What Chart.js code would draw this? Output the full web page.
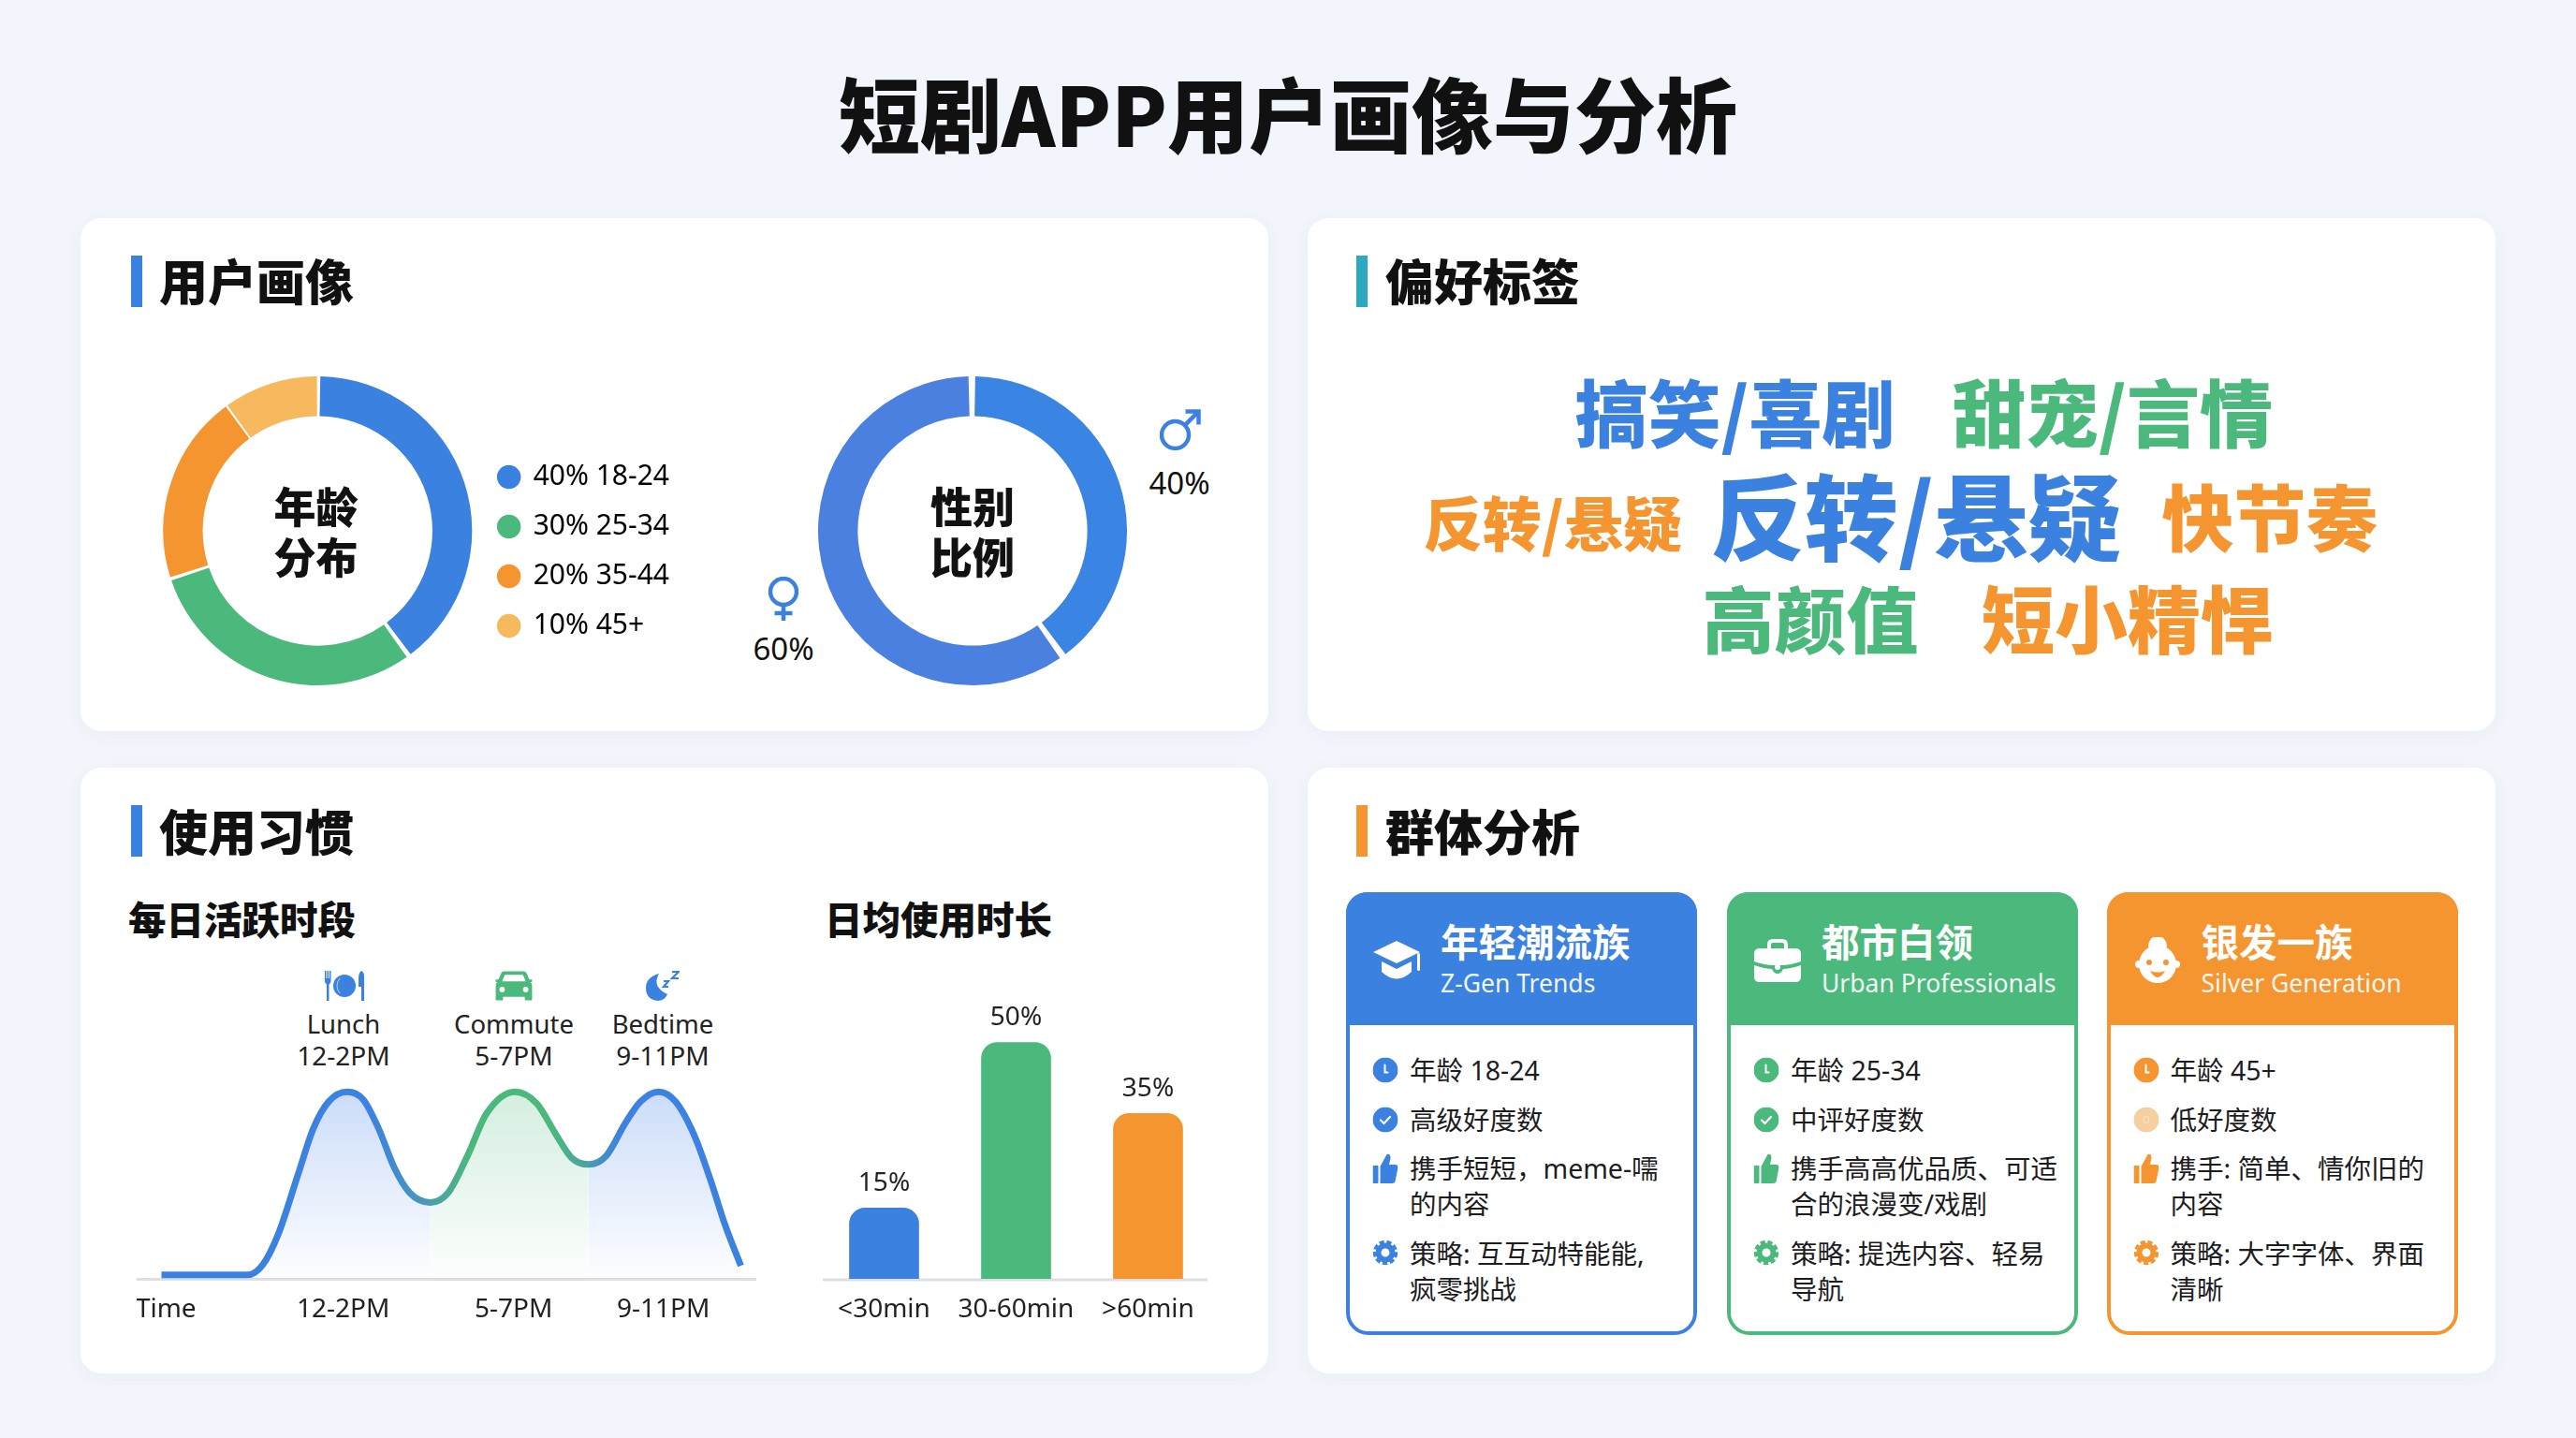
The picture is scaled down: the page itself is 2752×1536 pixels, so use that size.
<!DOCTYPE html>
<html lang="zh-CN">
<head>
<meta charset="utf-8">
<title>短剧APP用户画像与分析</title>
<script src="https://cdn.jsdelivr.net/npm/chart.js@4"></script>
<style>
html,body{margin:0;padding:0;width:2752px;height:1536px;overflow:hidden;background:#f2f5fb;color:#111;font-family:"Noto Sans","Noto Sans CJK SC",sans-serif}
#page{position:relative;width:2752px;height:1536px}
.card{position:absolute;background:#fff;border-radius:22px;box-shadow:0 4px 18px rgba(70,100,160,.05)}
.t{position:absolute;white-space:nowrap;line-height:1;transform:translateY(-50%)}
.c{transform:translate(-50%,-50%);text-align:center}
.b{font-family:"Noto Sans CJK SC",sans-serif;font-weight:900}
.m{font-family:"Noto Sans CJK SC",sans-serif;font-weight:700}
.bar{position:absolute;width:12px;height:55px}
canvas{position:absolute;display:block}
svg.i{position:absolute;transform:translate(-50%,-50%);overflow:visible}
.group{position:absolute;box-sizing:border-box;width:375px;height:473px;top:953px;background:#fff;border:4px solid;border-radius:24px}
.ghead{position:absolute;left:-4px;top:-4px;width:375px;height:142px;border-radius:22px 22px 0 0}
</style>
</head>
<body>
<svg width="0" height="0" style="position:absolute">
<defs>
<symbol id="cap" viewBox="0 0 52 44"><path fill="currentColor" d="M26 1 L51 13 L26 25 L1 13 Z M10 23 L26 31 L42 23 V34 Q26 49 10 34 Z"/><rect fill="currentColor" x="48" y="14" width="3" height="19" rx="1.5"/></symbol>
<symbol id="case" viewBox="0 0 50 48"><path fill="none" stroke="currentColor" stroke-width="4" d="M16 12 V7 Q16 3 20 3 H30 Q34 3 34 7 V12"/><path fill="currentColor" d="M6 11 H44 Q50 11 50 17 V25 Q38 29 30 29 H20 Q12 29 0 25 V17 Q0 11 6 11 Z M0 29 Q12 33 19 33 Q21 38 25 38 Q29 38 31 33 Q38 33 50 29 V41 Q50 47 44 47 H6 Q0 47 0 41 Z"/><circle fill="currentColor" cx="25" cy="31" r="3"/></symbol>
<symbol id="face" viewBox="0 0 48 50"><circle fill="currentColor" cx="24" cy="9" r="10"/><circle fill="currentColor" cx="24" cy="29" r="20"/><circle fill="currentColor" cx="4" cy="29" r="4"/><circle fill="currentColor" cx="44" cy="29" r="4"/><circle fill="#F59530" cx="15" cy="27" r="3"/><circle fill="#F59530" cx="33" cy="27" r="3"/><path fill="#F59530" d="M16 36 Q24 39 32 36 Q28 43 24 43 Q20 43 16 36 Z"/></symbol>
<symbol id="plate" viewBox="0 0 42 32"><path fill="currentColor" d="M0 0 h1.5 v8 h1 V0 h1.5 v8 h1 V0 H6.500 V11 Q6.500 14 4.500 14.500 V32 H2 V14.500 Q0 14 0 11 Z"/><circle fill="currentColor" cx="21" cy="16" r="12"/><path fill="none" stroke="#cfe0fb" stroke-width=".8" d="M16 8 Q10 16 16 24"/><path fill="currentColor" d="M39 0 Q42 1 42 6 V32 H39 V17 H36 V8 Q36 2 39 0 Z"/></symbol>
<symbol id="car" viewBox="0 0 40 34"><path fill="currentColor" d="M9 1 H31 Q33 1 34 3 L37 10 H40 V13 H38 Q40 14 40 17 V29 V33 H32 V29 H8 V33 H0 V17 Q0 14 2 13 H0 V10 H3 L6 3 Q7 1 9 1 Z"/><path fill="#fff" d="M10 5 H30 L33 12 H7 Z"/><circle fill="#fff" cx="7" cy="21" r="3"/><circle fill="#fff" cx="33" cy="21" r="3"/></symbol>
<symbol id="moon" viewBox="0 0 36 34"><path fill="currentColor" d="M14 4 Q6 18 23 26 Q20 33 13 33 Q0 32 0 19 Q0 8 14 4 Z"/><path fill="none" stroke="currentColor" stroke-width="2.200" d="M19 12 h5 l-5 6 h5 M28 2 h7 l-7 7 h7"/></symbol>
<symbol id="clock" viewBox="0 0 27 27"><circle fill="currentColor" cx="13.500" cy="13.500" r="13.500"/><path fill="none" stroke="#fff" stroke-width="2" stroke-linecap="round" d="M13 8 V16 H16"/></symbol>
<symbol id="check" viewBox="0 0 27 27"><circle fill="currentColor" cx="13.500" cy="13.500" r="13.500"/><path fill="none" stroke="#fff" stroke-width="2.200" stroke-linecap="round" d="M8.500 14 L12 17.500 L18.500 10.500"/></symbol>
<symbol id="dot" viewBox="0 0 27 27"><circle fill="#F5CFA0" cx="13.500" cy="13.500" r="13.500"/><rect fill="none" stroke="#fbe6cc" stroke-width="1" x="11" y="10" width="5" height="7" rx="2"/></symbol>
<symbol id="thumb" viewBox="0 0 27 32"><rect fill="currentColor" x="0" y="13" width="6" height="19" rx="1"/><path fill="currentColor" d="M8 14 L15 1 Q19 0 19 5 L17.500 12 H24 Q27 12 27 15 L24 30 Q23.500 32 21 32 H8 Z"/></symbol>
<symbol id="gear" viewBox="0 0 27 27"><circle fill="none" stroke="currentColor" stroke-width="4.500" stroke-dasharray="5 2.550" cx="13.500" cy="13.500" r="11"/><circle fill="none" stroke="currentColor" stroke-width="6" cx="13.500" cy="13.500" r="7.500"/></symbol>
<symbol id="mars" viewBox="0 0 45 45"><circle fill="none" stroke="currentColor" stroke-width="4.500" cx="17" cy="28" r="14.500"/><path fill="none" stroke="currentColor" stroke-width="4.500" d="M27 18 L42 3 M28 3 H42 V17"/></symbol>
<symbol id="venus" viewBox="0 0 33 48"><circle fill="none" stroke="currentColor" stroke-width="4.500" cx="16.500" cy="16" r="14"/><path fill="none" stroke="currentColor" stroke-width="4.500" d="M16.500 30 V47 M7 39 H26"/></symbol>
</defs>
</svg>

<div id="page">
  <div class="card" style="left:86px;top:233px;width:1269px;height:548px"></div>
  <div class="card" style="left:1397px;top:233px;width:1269px;height:548px"></div>
  <div class="card" style="left:86px;top:820px;width:1269px;height:647px"></div>
  <div class="card" style="left:1397px;top:820px;width:1269px;height:647px"></div>
  <canvas id="ageChart" width="550" height="330" style="left:172px;top:402px"></canvas>
  <canvas id="genderChart" width="330" height="330" style="left:874px;top:402px"></canvas>
  <canvas id="activityChart" width="662" height="280" style="left:146px;top:1146px"></canvas>
  <canvas id="durationChart" width="423" height="363" style="left:874px;top:1063px"></canvas>
</div>

<script>
const BLUE = '#3B82E0', GREEN = '#4CB97C', ORANGE = '#F59530', LIGHT = '#F6B95E', TEAL = '#2BA9C0';
const UI = '"Noto Sans","Noto Sans CJK SC",sans-serif';

const pageTitle = '短剧APP用户画像与分析';
const sectionTitles = ['用户画像', '偏好标签', '使用习惯', '群体分析'];
const donutCaptions = [['年龄', '分布'], ['性别', '比例']];

const ageLabels = ['18-24', '25-34', '35-44', '45+'];
const ageValues = [40, 30, 20, 10];
const genderLabels = ['男', '女'];
const genderValues = [40, 60];

const activityHours = [7.72, 10.22, 10.67, 11.12, 11.68, 12.13, 12.58, 13.11, 13.58, 14.03, 14.48, 14.93, 15.53, 16.05, 16.61, 17.17, 17.99, 18.62, 19.18, 19.63, 20.12, 20.64, 21.2, 21.64, 22.16, 22.65, 23.21, 23.66, 24.1, 24.55];
const activityLevel = [2.1, 2.1, 7.7, 24.2, 55.3, 80.2, 94.7, 99.9, 95.8, 80.2, 59.5, 46.0, 40.8, 46.0, 65.7, 88.5, 99.9, 93.7, 77.1, 64.7, 61.1, 65.7, 83.3, 94.7, 99.9, 94.7, 76.1, 53.3, 28.4, 7.0];
const activityTickHours = [7.85, 13, 17.95, 22.3];
const activityTickLabels = ['Time', '12-2PM', '5-7PM', '9-11PM'];
const peakNames = ['Lunch', 'Commute', 'Bedtime'];
const peakWindows = ['12-2PM', '5-7PM', '9-11PM'];

const durationLabels = ['<30min', '30-60min', '>60min'];
const durationValues = [15, 50, 35];

const tagTexts = ['搞笑/喜剧', '甜宠/言情', '反转/悬疑', '反转/悬疑', '快节奏', '高颜值', '短小精悍'];

const groupTitles = ['年轻潮流族', '都市白领', '银发一族'];
const groupSubtitles = ['Z-Gen Trends', 'Urban Professionals', 'Silver Generation'];
const groupAges = ['年龄 18-24', '年龄 25-34', '年龄 45+'];
const groupRatings = ['高级好度数', '中评好度数', '低好度数'];
const groupLikes = [['携手短短，meme-嚅', '的内容'], ['携手高高优品质、可适', '合的浪漫变/戏剧'], ['携手: 简单、情你旧的', '内容']];
const groupStrategies = [['策略: 互互动特能能,', '疯零挑战'], ['策略: 提选内容、轻易', '导航'], ['策略: 大字字体、界面', '清晰']];

Chart.defaults.animation = false;
Chart.defaults.responsive = false;
Chart.defaults.maintainAspectRatio = false;
Chart.defaults.devicePixelRatio = 1;
Chart.defaults.font.family = UI;
Chart.defaults.color = '#222';
Chart.defaults.plugins.tooltip.enabled = false;

const page = document.getElementById('page');
function text(x, y, str, size, opts = {}) {
  const d = document.createElement('div');
  d.className = 't ' + (opts.center ? 'c ' : '') + (opts.cls || '');
  d.textContent = str;
  d.style.left = x + 'px';
  d.style.top = y + 'px';
  d.style.fontSize = size + 'px';
  if (opts.color) d.style.color = opts.color;
  if (opts.opacity) d.style.opacity = opts.opacity;
  if (opts.lineHeight) { d.style.lineHeight = opts.lineHeight + 'px'; d.style.whiteSpace = 'pre'; }
  page.appendChild(d);
  return d;
}
function icon(name, x, y, w, h, color) {
  page.insertAdjacentHTML('beforeend',
    `<svg class="i" style="left:${x}px;top:${y}px;color:${color}" width="${w}" height="${h}"><use href="#${name}"/></svg>`);
}
function bar(x, y, color) {
  page.insertAdjacentHTML('beforeend', `<div class="bar" style="left:${x}px;top:${y}px;background:${color}"></div>`);
}

/* headings */
text(1376, 119, pageTitle, 87, {center: true, cls: 'b'});
const headX = [170, 1480, 170, 1480], headY = [299, 299, 887, 887], barY = [273, 273, 860, 860];
const barC = [BLUE, TEAL, BLUE, ORANGE], barX = [140, 1449, 140, 1449];
sectionTitles.forEach((s, i) => { bar(barX[i], barY[i], barC[i]); text(headX[i], headY[i], s, 52, {cls: 'b'}); });
text(137, 981, '每日活跃时段', 40.5, {cls: 'b'});
text(881, 981, '日均使用时长', 40.5, {cls: 'b'});

/* donut centres */
text(337.5, 567, donutCaptions[0].join('\n'), 45, {center: true, cls: 'b', lineHeight: 54});
text(1039, 567, donutCaptions[1].join('\n'), 45, {center: true, cls: 'b', lineHeight: 54});
icon('mars', 1261, 459, 45, 45, BLUE);
text(1260, 515, genderValues[0] + '%', 33, {center: true});
icon('venus', 837, 640, 33, 48, BLUE);
text(837, 692, genderValues[1] + '%', 33, {center: true});

/* age donut with its legend; the legend sits a little below and right of the ring's centre */
const legendNudge = {
  id: 'legendNudge',
  afterLayout(ch) {
    const l = ch.legend;
    l.top += 22; l.bottom += 22; l.left += 3; l.right += 3;
    if (l.legendHitBoxes) l.legendHitBoxes.forEach(b => { b.top += 22; b.left += 3; });
  }
};
new Chart(document.getElementById('ageChart'), {
  type: 'doughnut',
  data: {labels: ageLabels, datasets: [{data: ageValues, backgroundColor: [BLUE, GREEN, ORANGE, LIGHT], borderWidth: 0, spacing: 4}]},
  options: {
    cutout: '74%',
    plugins: {legend: {
      position: 'right',
      labels: {
        usePointStyle: true, pointStyle: 'circle', boxWidth: 22, boxHeight: 18, padding: 23, color: '#222',
        font: {size: 30, family: UI},
        generateLabels: ch => ageLabels.map((l, i) => ({
          text: ageValues[i] + '% ' + l, fillStyle: ch.data.datasets[0].backgroundColor[i], strokeStyle: 'transparent', lineWidth: 0, pointStyle: 'circle', index: i
        }))
      }
    }}
  },
  plugins: [legendNudge]
});

/* gender donut */
new Chart(document.getElementById('genderChart'), {
  type: 'doughnut',
  data: {labels: genderLabels, datasets: [{data: genderValues, backgroundColor: ['#3A84E3', '#4A80E0'], borderWidth: 0, spacing: 4}]},
  options: {cutout: '74%', plugins: {legend: {display: false}}}
});

/* activity curve */
const activityPoints = activityHours.map((h, i) => ({x: h, y: activityLevel[i]}));
const vFill = (r, g, b, top) => c => {
  const a = c.chart.chartArea;
  if (!a) return 'transparent';
  const y100 = c.chart.scales.y.getPixelForValue(100), y0 = c.chart.scales.y.getPixelForValue(0);
  const gr = c.chart.ctx.createLinearGradient(0, y100, 0, y0);
  gr.addColorStop(0, `rgba(${r},${g},${b},${top})`);
  gr.addColorStop(1, `rgba(${r},${g},${b},0.01)`);
  return gr;
};
const strokeGrad = c => {
  const a = c.chart.chartArea;
  if (!a) return BLUE;
  const gr = c.chart.ctx.createLinearGradient(a.left, 0, a.right, 0);
  [[0, BLUE], [.38, BLUE], [.472, '#4A9DAE'], [.54, GREEN], [.67, GREEN], [.73, '#4A9DAE'], [.78, BLUE], [1, BLUE]].forEach(s => gr.addColorStop(s[0], s[1]));
  return gr;
};
const fillSet = (pts, color) => ({data: pts, borderWidth: 0, borderColor: 'transparent', backgroundColor: color, fill: 'origin', pointRadius: 0, cubicInterpolationMode: 'monotone'});
new Chart(document.getElementById('activityChart'), {
  type: 'line',
  data: {datasets: [
    fillSet(activityPoints.slice(0, 13), vFill(70, 130, 235, .28)),
    fillSet(activityPoints.slice(12, 21), vFill(76, 185, 124, .24)),
    fillSet(activityPoints.slice(20), vFill(70, 130, 235, .28)),
    {data: activityPoints, borderColor: strokeGrad, borderWidth: 7, fill: false, pointRadius: 0, cubicInterpolationMode: 'monotone', borderCapStyle: 'butt', borderJoinStyle: 'round', clip: false}
  ]},
  options: {
    layout: {padding: 0},
    plugins: {legend: {display: false}},
    scales: {
      x: {
        type: 'linear', min: 7, max: 25,
        afterBuildTicks: s => { s.ticks = activityTickHours.map(v => ({value: v})); },
        afterFit: s => { s.height = 60; s.paddingLeft = 0; s.paddingRight = 0; },
        grid: {display: false, drawTicks: false},
        border: {color: '#dcdfe4', width: 3},
        ticks: {autoSkip: false, maxRotation: 0, padding: 16, color: '#222', font: {size: 28, family: UI}, callback: (v, i) => activityTickLabels[i]}
      },
      y: {display: false, min: 0, max: 110}
    }
  }
});

/* labels above the peaks */
const peakX = [367, 549, 708];
const peakIcons = [['plate', 42, 32, BLUE], ['car', 40, 33, GREEN], ['moon', 36, 34, BLUE]];
peakNames.forEach((n, i) => {
  icon(peakIcons[i][0], peakX[i] + (i === 0 ? 1 : 0), 1053, peakIcons[i][1], peakIcons[i][2], peakIcons[i][3]);
  text(peakX[i], 1094, n, 27.5, {center: true, color: '#222'});
  text(peakX[i], 1127, peakWindows[i], 28, {center: true, color: '#222'});
});

/* duration bars */
const barLabels = {
  id: 'barLabels',
  beforeDatasetsDraw(ch) {
    const {ctx, chartArea: a} = ch;
    ctx.save();
    ctx.strokeStyle = '#dcdfe4'; ctx.lineWidth = 3;
    ctx.beginPath(); ctx.moveTo(a.left + 5, a.bottom + 1); ctx.lineTo(a.right - 7, a.bottom + 1); ctx.stroke();
    ctx.restore();
  },
  afterDatasetsDraw(ch) {
    const {ctx} = ch;
    ctx.save();
    ctx.font = '28px ' + UI; ctx.fillStyle = '#222'; ctx.textAlign = 'center'; ctx.textBaseline = 'middle';
    ch.getDatasetMeta(0).data.forEach((b, i) => ctx.fillText(durationValues[i] + '%', b.x, b.y - 26));
    ctx.restore();
  }
};
new Chart(document.getElementById('durationChart'), {
  type: 'bar',
  data: {labels: durationLabels, datasets: [{data: durationValues, backgroundColor: [BLUE, GREEN, ORANGE], barThickness: 74, borderRadius: {topLeft: 17, topRight: 17, bottomLeft: 0, bottomRight: 0}, borderSkipped: false}]},
  options: {
    layout: {padding: 0},
    plugins: {legend: {display: false}},
    scales: {
      x: {
        afterFit: s => { s.height = 60; },
        grid: {display: false, drawTicks: false}, border: {display: false},
        ticks: {padding: 16, maxRotation: 0, autoSkip: false, color: '#222', font: {size: 28, family: UI}}
      },
      y: {display: false, min: 0, max: 60}
    }
  },
  plugins: [barLabels]
});

/* preference tags */
const tagColor = [BLUE, GREEN, ORANGE, BLUE, ORANGE, GREEN, ORANGE];
const tagSize = [78, 78, 63, 100, 77, 77, 78];
const tagX = [1853.5, 2257, 1659, 2047, 2425, 1934, 2273];
const tagY = [438, 438, 555, 548, 549, 658, 658];
tagTexts.forEach((s, i) => text(tagX[i], tagY[i], s, tagSize[i], {center: true, cls: 'b', color: tagColor[i]}));

/* audience groups */
const gLeft = [1438, 1845, 2250.5];
const gColor = [BLUE, GREEN, ORANGE];
const gIcons = [['cap', 52, 44], ['case', 50, 48], ['face', 48, 50]];
groupTitles.forEach((t, i) => {
  const L = gLeft[i], c = gColor[i];
  page.insertAdjacentHTML('beforeend',
    `<div class="group" style="left:${L}px;border-color:${c}"><div class="ghead" style="background:${c}"></div></div>`);
  icon(gIcons[i][0], L + 54, 1026, gIcons[i][1], gIcons[i][2], '#fff');
  text(L + 101, 1005, t, 40.5, {cls: 'm', color: '#fff'});
  text(L + 101, 1050, groupSubtitles[i], 26.5, {color: '#fff', opacity: .92});
  const ix = L + 42, tx = L + 68, ts = 28.5, tc = '#1d1d1f';
  icon('clock', ix, 1143, 27, 27, c);
  text(tx, 1143, groupAges[i], ts, {color: tc});
  icon(i === 2 ? 'dot' : 'check', ix, 1196, 27, 27, c);
  text(tx, 1196, groupRatings[i], ts, {color: tc});
  icon('thumb', ix, 1248, 27, 32, c);
  text(tx, 1248, groupLikes[i][0], ts, {color: tc});
  text(tx, 1286, groupLikes[i][1], ts, {color: tc});
  icon('gear', ix, 1338, 27, 27, c);
  text(tx, 1339, groupStrategies[i][0], ts, {color: tc});
  text(tx, 1377, groupStrategies[i][1], ts, {color: tc});
});
</script>
</body>
</html>
